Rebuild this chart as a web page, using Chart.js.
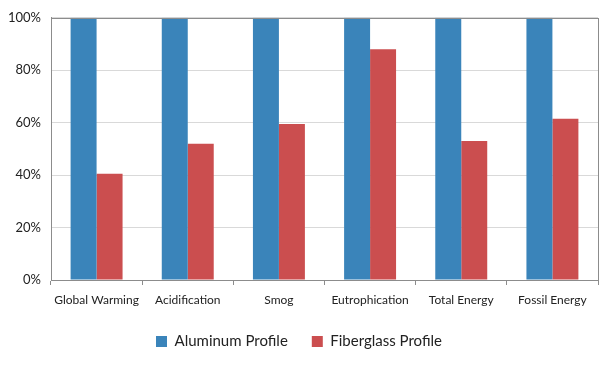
<!DOCTYPE html>
<html lang="en">
  <head>
    <meta charset="UTF-8" />
    <title>Aluminum vs Fiberglass Profile</title>
    <script src="https://cdn.jsdelivr.net/npm/chart.js@4.4.0/dist/chart.umd.min.js"></script>
  </head>
  <style>
    html, body {
      margin: 0;
      padding: 0;
      background: #ffffff;
    }

    .chart-container {
      width: 609px;
      height: 369px;
    }
  </style>
  <body>
    <div class="chart-container">
      <canvas id="profileChart"></canvas>
    </div>

    <script>
      const categories = ["Global Warming", "Acidification", "Smog", "Eutrophication", "Total Energy", "Fossil Energy"];
      const aluminumValues = [100, 100, 100, 100, 100, 100];
      const fiberglassValues = [40.5, 52, 59.5, 88, 53, 61.5];
      const yTicks = [0, 20, 40, 60, 80, 100];

      // frame round the plot area (top + right edges like the original)
      const frame = {
        id: "frame",
        afterDatasetsDraw(chart) {
          const a = chart.chartArea;
          const c = chart.ctx;
          c.save();
          c.strokeStyle = "#8c8c8c";
          c.lineWidth = 1;
          c.strokeRect(Math.round(a.left) + 0.5, Math.round(a.top) + 0.5, Math.round(a.right - a.left), Math.round(a.bottom - a.top));
          c.restore();
        },
      };

      const ctx = document.getElementById("profileChart").getContext("2d");

      new Chart(ctx, {
        type: "bar",
        data: {
          labels: categories,
          datasets: [
            {
              label: "Aluminum Profile",
              data: aluminumValues,
              backgroundColor: "#3a84ba",
              categoryPercentage: 0.57,
              barPercentage: 1,
            },
            {
              label: "Fiberglass Profile",
              data: fiberglassValues,
              backgroundColor: "#cb4e4f",
              categoryPercentage: 0.57,
              barPercentage: 1,
            },
          ],
        },
        options: {
          responsive: true,
          maintainAspectRatio: false,
          animation: false,
          layout: { padding: { top: 16, right: 11, left: 0, bottom: 10 } },
          scales: {
            x: {
              offset: true,
              grid: { drawOnChartArea: false, tickLength: 5, color: "#8c8c8c", offset: true },
              border: { color: "#8c8c8c" },
              ticks: { color: "#222", font: { family: "Lato", size: 12 }, padding: 8, maxRotation: 0, autoSkip: false },
              afterFit(scale) { scale.height = 30; },
            },
            y: {
              min: 0,
              max: 100,
              afterBuildTicks(scale) { scale.ticks = yTicks.map((v) => ({ value: v })); },
              grid: { color: "#d9d9d9", tickLength: 5, drawTicks: false },
              border: { color: "#8c8c8c" },
              ticks: {
                color: "#222",
                font: { family: "Lato", size: 13 },
                padding: 10,
                callback: (v) => v + "%",
              },
              afterFit(scale) { scale.width = 51; },
            },
          },
          plugins: {
            legend: {
              position: "bottom",
              labels: {
                boxWidth: 11,
                boxHeight: 11,
                padding: 24,
                color: "#222",
                font: { family: "Lato", size: 15 },
              },
            },
            tooltip: { enabled: false },
          },
        },
        plugins: [frame],
      });
    </script>
  </body>
</html>
